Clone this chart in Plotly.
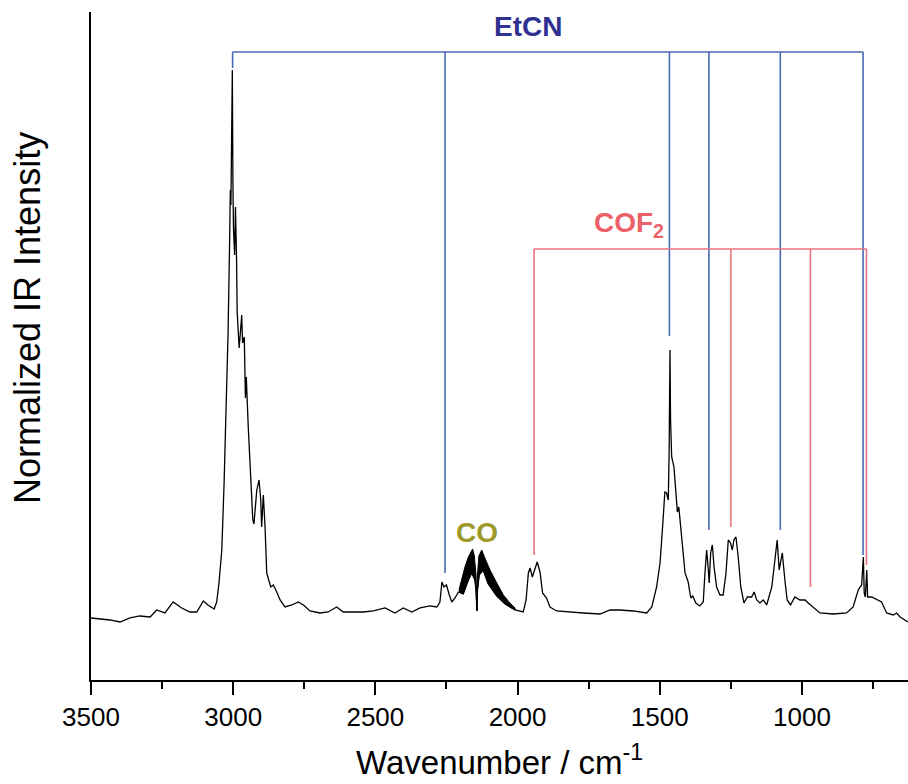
import plotly.graph_objects as go

# IR spectrum, wavenumber (cm-1) vs raw intensity (baseline ~ 0)
wavenumber = [
    3500, 3468, 3433, 3398, 3363, 3328, 3292, 3269, 3240, 3211, 3181, 3152, 3128, 3105,
    3089, 3067, 3058, 3050, 3040, 3032, 3025, 3018, 3013, 3010, 3008, 3006, 3003, 3001,
    2999, 2995, 2992, 2988, 2986, 2979, 2970, 2967, 2961, 2957, 2954, 2947, 2941, 2931,
    2927, 2917, 2909, 2903, 2900, 2894, 2888, 2882, 2877, 2868, 2859, 2850, 2835, 2818,
    2794, 2771, 2753, 2730, 2695, 2666, 2636, 2613, 2578, 2543, 2507, 2466, 2431, 2402,
    2372, 2343, 2308, 2284, 2273, 2266, 2259, 2250, 2240, 2231, 2220, 2208, 2191, 2173,
    2161, 2150, 2146, 2143, 2141, 2135, 2121, 2103, 2073, 2044, 2027, 2009, 1980, 1970,
    1962, 1956, 1948, 1939, 1931, 1921, 1912, 1898, 1886, 1863, 1827, 1769, 1710, 1675,
    1640, 1593, 1546, 1528, 1511, 1499, 1490, 1482, 1476, 1470, 1467, 1464, 1462, 1458,
    1450, 1443, 1438, 1433, 1429, 1419, 1411, 1400, 1391, 1384, 1373, 1359, 1347, 1341,
    1335, 1330, 1326, 1321, 1315, 1309, 1300, 1288, 1277, 1267, 1259, 1251, 1245, 1239,
    1232, 1224, 1215, 1204, 1192, 1177, 1168, 1159, 1148, 1136, 1124, 1106, 1095, 1087,
    1080, 1075, 1069, 1060, 1052, 1040, 1025, 1007, 989, 978, 960, 937, 890, 843,
    820, 802, 790, 784, 781, 777, 772, 769, 755, 737, 720, 702, 679, 667,
    655, 627,
]
intensity = [
    -6, -7, -8, -10, -6, -4, -5, 2, -1, 10, 4, 0, 0, 11,
    7, 3, 10, 29, 62, 129, 195, 279, 362, 422, 407, 462, 542, 432,
    384, 357, 405, 350, 300, 264, 297, 269, 275, 214, 235, 185, 145, 92,
    88, 122, 132, 112, 85, 117, 85, 39, 34, 25, 27, 22, 12, 5,
    7, 10, 7, 1, -1, 0, 5, 0, 0, 0, 1, 4, -1, 4,
    0, 4, 6, 5, 10, 30, 25, 27, 17, 10, 14, 20, 18, 32,
    39, 32, 22, 1, 22, 37, 42, 28, 16, 8, 5, 2, 0, 12,
    39, 44, 35, 42, 50, 40, 19, 14, 5, 1, 0, -1, -2, 2,
    2, 1, -1, 5, 25, 49, 85, 120, 119, 112, 159, 262, 192, 155,
    145, 119, 100, 105, 92, 59, 39, 30, 14, 16, 9, 6, 10, 39,
    62, 45, 29, 59, 67, 45, 25, 17, 17, 39, 72, 69, 62, 72,
    75, 55, 25, 9, 15, 15, 20, 12, 9, 12, 7, 25, 49, 72,
    42, 52, 59, 32, 12, 7, 15, 12, 12, 9, 5, -1, -2, -1,
    5, 22, 27, 55, 19, 15, 42, 15, 15, 12, 10, -1, -3, -1,
    -5, -10,
]

# CO ro-vibrational band (P and R branches), upper and lower envelopes
co_wn_upper = [2206, 2197, 2185, 2173, 2165, 2158, 2152, 2146, 2143, 2141, 2136, 2126,
               2115, 2097, 2073, 2050, 2027, 2009]
co_upper = [22, 32, 45, 55, 60, 63, 56, 37, 2, 37, 56, 62, 54, 42, 29, 17, 9, 4]
co_wn_lower = [2206, 2191, 2173, 2161, 2150, 2146, 2143, 2141, 2135, 2121, 2103, 2073,
               2044, 2027, 2009]
co_lower = [20, 18, 32, 39, 32, 22, 1, 22, 37, 42, 28, 16, 8, 5, 2]

# Band assignments
etcn_pos = [3002, 2255, 1466, 1327, 1076, 785]
etcn_end = [544, 39, 276, 82, 82, 57]
etcn_bar = 560
cof2_pos = [1942, 1250, 970, 773]
cof2_end = [57, 85, 25, 47]
cof2_bar = 363

norm = float(max(intensity))


def scaled(values):
    return [v / norm for v in values]


def bracket(pos, ends, bar):
    xs = [pos[0], pos[-1], None]
    ys = [bar / norm, bar / norm, None]
    for p, e in zip(pos, ends):
        xs += [p, p, None]
        ys += [bar / norm, e / norm, None]
    return xs, ys


FONT = "Liberation Sans, Arial, sans-serif"
BLUE_LINE = "#4868B8"
BLUE_TEXT = "#2E3192"
RED_LINE = "#EA7479"
RED_TEXT = "#EC6169"
OLIVE = "#9E9A2C"

fig = go.Figure()

ex, ey = bracket(etcn_pos, etcn_end, etcn_bar)
fig.add_trace(go.Scatter(x=ex, y=ey, mode="lines", line=dict(color=BLUE_LINE, width=1.6),
                         hoverinfo="skip", showlegend=False))
cx, cy = bracket(cof2_pos, cof2_end, cof2_bar)
fig.add_trace(go.Scatter(x=cx, y=cy, mode="lines", line=dict(color=RED_LINE, width=1.6),
                         hoverinfo="skip", showlegend=False))

# CO band drawn as a filled black envelope
band_x = co_wn_upper + co_wn_lower[::-1]
band_y = scaled(co_upper) + scaled(co_lower[::-1])
fig.add_trace(go.Scatter(x=band_x, y=band_y, mode="lines", fill="toself",
                         fillcolor="black", line=dict(color="black", width=1),
                         hoverinfo="skip", showlegend=False))

fig.add_trace(go.Scatter(x=wavenumber, y=scaled(intensity), mode="lines",
                         line=dict(color="black", width=1.3), showlegend=False))

fig.update_layout(
    width=908, height=784, autosize=False,
    margin=dict(l=91, r=0, t=12, b=104),
    paper_bgcolor="white", plot_bgcolor="white",
    font=dict(family=FONT, color="black"),
    xaxis=dict(
        range=[3500, 627], showgrid=False, zeroline=False,
        showline=True, linecolor="black", linewidth=2,
        ticks="outside", ticklen=13, tickwidth=2, tickcolor="black",
        tick0=0, dtick=500, tickfont=dict(family=FONT, size=26, color="black"),
        minor=dict(ticks="outside", ticklen=7, tickwidth=2, tickcolor="black",
                   tick0=0, dtick=250, showgrid=False),
    ),
    yaxis=dict(
        range=[-0.1255, 1.107], showgrid=False, zeroline=False,
        showline=True, linecolor="black", linewidth=2,
        showticklabels=False, ticks="",
    ),
    annotations=[
        dict(text="Wavenumber / cm<sup>-1</sup>", xref="paper", yref="paper",
             x=0.5, y=(680 - 760) / 668, xanchor="center", yanchor="middle",
             showarrow=False, font=dict(family=FONT, size=33, color="black")),
        dict(text="Normalized IR Intensity", xref="paper", yref="paper",
             x=(27 - 91) / 817, y=(680 - 318) / 668, xanchor="center", yanchor="middle",
             textangle=-90, showarrow=False,
             font=dict(family=FONT, size=36, color="black")),
        dict(text="<b>EtCN</b>", x=1965, y=585 / norm, xref="x", yref="y",
             showarrow=False, font=dict(family=FONT, size=28, color=BLUE_TEXT)),
        dict(text="<b>COF<sub>2</sub></b>", x=1608, y=387 / norm, xref="x", yref="y",
             showarrow=False, font=dict(family=FONT, size=28, color=RED_TEXT)),
        dict(text="<b>CO</b>", x=2144, y=79 / norm, xref="x", yref="y",
             showarrow=False, font=dict(family=FONT, size=28, color=OLIVE)),
    ],
)

fig.write_html("out.html")
